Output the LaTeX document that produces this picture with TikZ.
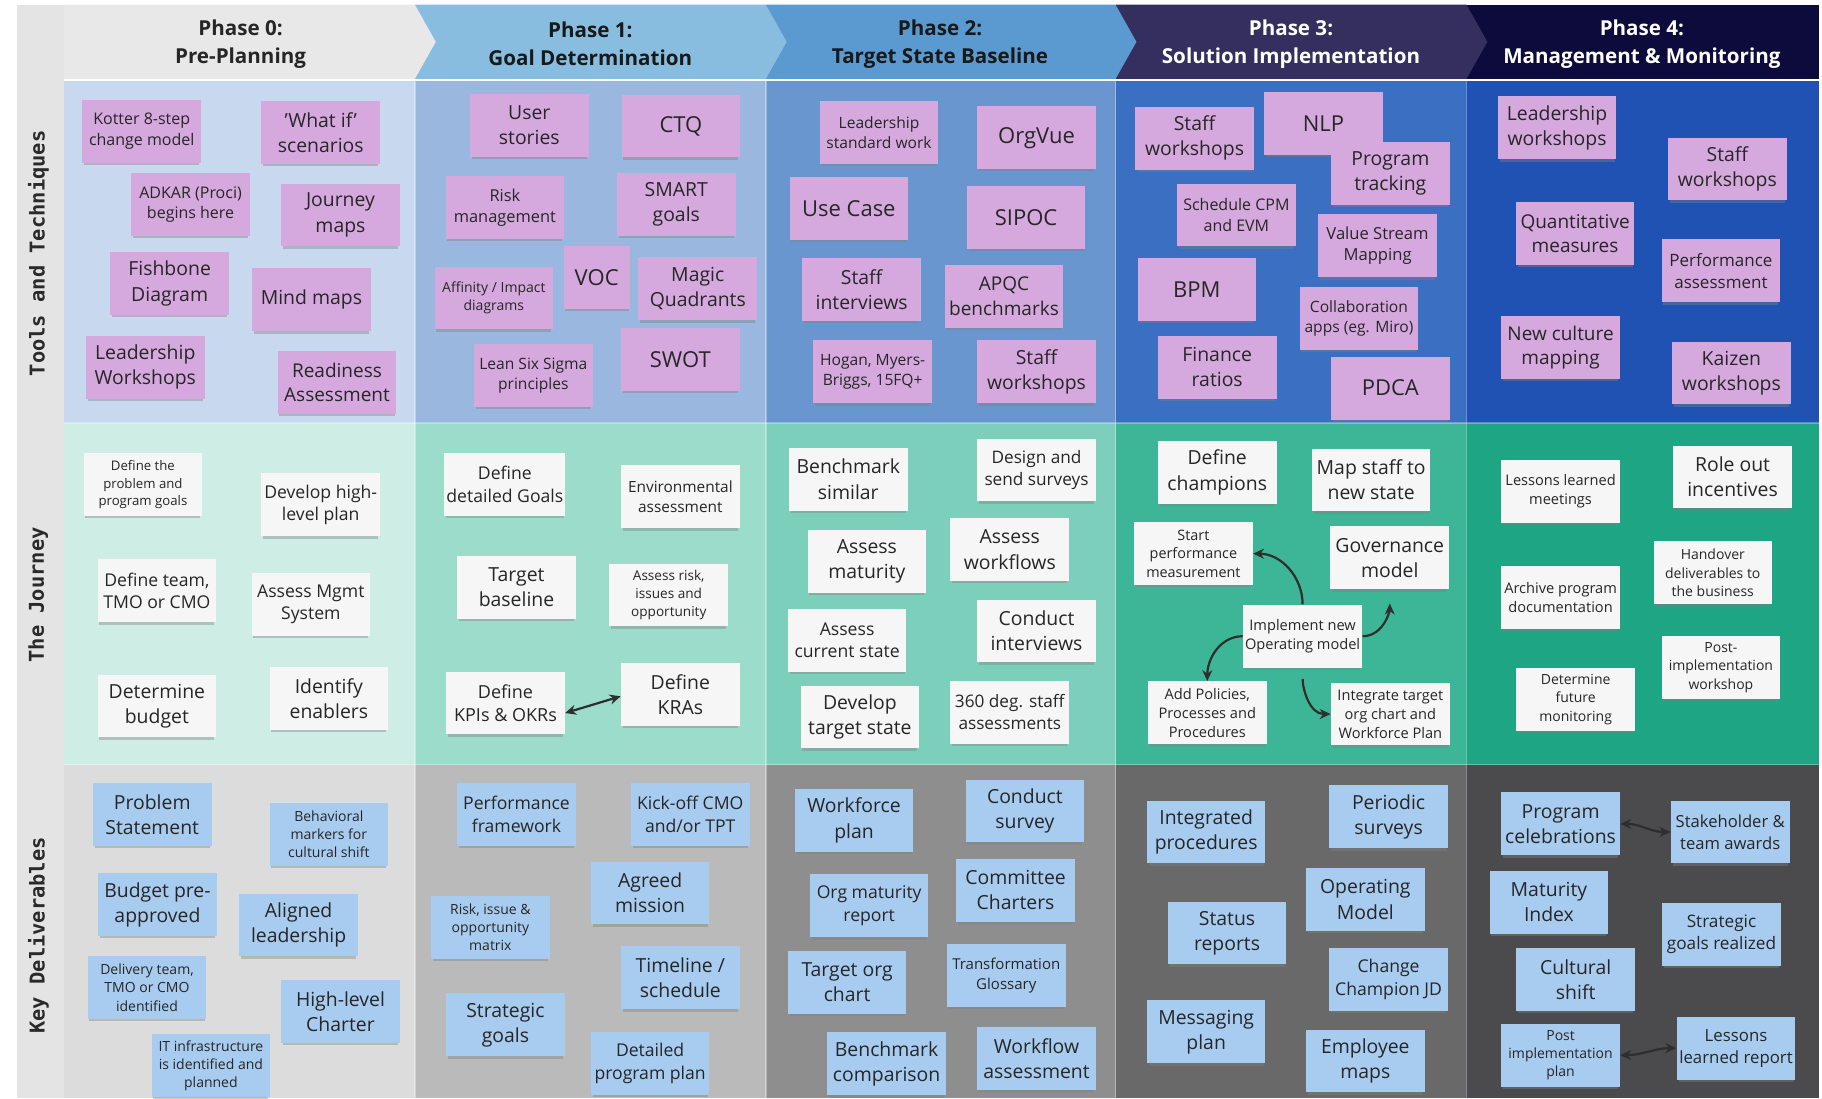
\documentclass[tikz,border=0pt]{standalone}
\usepackage{fontspec}
\setmainfont{Open Sans}
\newfontfamily\hdfont{Open Sans}
\newfontfamily\lblfont{DejaVu Sans Mono}
\usetikzlibrary{arrows.meta,shadows}
\newdimen\tmpfsd
\newcommand\setfs[1]{\tmpfsd=#1pt\relax\tmpfsd=1.3\tmpfsd\fontsize{#1pt}{\the\tmpfsd}\selectfont}
\definecolor{lblcol}{HTML}{E4E4E4}
\definecolor{lbltext}{HTML}{2A2A2A}
\definecolor{hA}{HTML}{E8E8E8}
\definecolor{hB}{HTML}{88BDE0}
\definecolor{hC}{HTML}{5A9AD0}
\definecolor{hD}{HTML}{342F5E}
\definecolor{hE}{HTML}{0D0B3B}
\definecolor{rAa}{HTML}{C8D8EE}
\definecolor{rAb}{HTML}{9AB7DF}
\definecolor{rAc}{HTML}{6996CF}
\definecolor{rAd}{HTML}{3B6FC1}
\definecolor{rAe}{HTML}{2052B4}
\definecolor{rBa}{HTML}{CDEDE5}
\definecolor{rBb}{HTML}{9BDCCB}
\definecolor{rBc}{HTML}{7CCFBB}
\definecolor{rBd}{HTML}{3DB698}
\definecolor{rBe}{HTML}{1EA583}
\definecolor{rCa}{HTML}{DCDCDC}
\definecolor{rCb}{HTML}{BABABA}
\definecolor{rCc}{HTML}{8E8E8E}
\definecolor{rCd}{HTML}{696969}
\definecolor{rCe}{HTML}{4B4A4D}
\definecolor{pinknote}{HTML}{D6A9DE}
\definecolor{whitenote}{HTML}{F6F6F6}
\definecolor{bluenote}{HTML}{A8CCF0}
\definecolor{notetext}{HTML}{262626}
\definecolor{arrowc}{HTML}{2E2E2E}
\tikzset{
  note/.style={minimum width=59.3pt, minimum height=31.4pt, inner sep=1pt, align=center, text=notetext,
    drop shadow={shadow xshift=0pt, shadow yshift=-1.7pt, opacity=0.4, shadow scale=0.97}},
  pk/.style={note, fill=pinknote},
  wt/.style={note, fill=whitenote},
  bl/.style={note, fill=bluenote},
  tsz/.style={font=\setfs{#1}},
  arr/.style={-{Stealth[length=5.5pt,width=5pt]}, line width=1.1pt, draw=arrowc},
  dbl/.style={{Stealth[length=5.5pt,width=5pt]}-{Stealth[length=5.5pt,width=5pt]}, line width=1.1pt, draw=arrowc},
  hdr/.style={font=\hdfont\bfseries\fontsize{10.3pt}{14pt}\selectfont, align=center},
  lbl/.style={rotate=90, font=\lblfont\bfseries\fontsize{10.2pt}{12pt}\selectfont, text=lbltext},
}
\begin{document}
\begin{tikzpicture}[x=0.581pt,y=-0.581pt]
\useasboundingbox (0,0) rectangle (1568,945);
\fill[white] (0,0) rectangle (1568,945);
% label column
\fill[lblcol] (15,4) rectangle (55,945);
% cell backgrounds
\fill[rAa] (55,70) rectangle (357,364);
\fill[rAb] (357,70) rectangle (659,364);
\fill[rAc] (659,70) rectangle (960,364);
\fill[rAd] (960,70) rectangle (1262,364);
\fill[rAe] (1262,70) rectangle (1565,364);
\fill[rBa] (55,364) rectangle (357,658);
\fill[rBb] (357,364) rectangle (659,658);
\fill[rBc] (659,364) rectangle (960,658);
\fill[rBd] (960,364) rectangle (1262,658);
\fill[rBe] (1262,364) rectangle (1565,658);
\fill[rCa] (55,658) rectangle (357,945);
\fill[rCb] (357,658) rectangle (659,945);
\fill[rCc] (659,658) rectangle (960,945);
\fill[rCd] (960,658) rectangle (1262,945);
\fill[rCe] (1262,658) rectangle (1565,945);
\foreach \xx in {357,659,960,1262}{\draw[white,opacity=0.35,line width=0.8pt] (\xx,70) -- (\xx,945);}
\foreach \yy in {364,658}{\draw[white,opacity=0.3,line width=0.8pt] (55,\yy) -- (1565,\yy);}
% header chevrons
\fill[hE] (1262,4) -- (1565,4) -- (1565,68) -- (1262,68) -- cycle;
\fill[hD] (960,4) -- (1262,4) -- (1280,36) -- (1262,68) -- (960,68) -- cycle;
\fill[hC] (659,4) -- (960,4) -- (978,36) -- (960,68) -- (659,68) -- cycle;
\fill[hB] (357,4) -- (659,4) -- (677,36) -- (659,68) -- (357,68) -- cycle;
\fill[hA] (55,4) -- (357,4) -- (375,36) -- (357,68) -- (55,68) -- cycle;
\draw[white,opacity=0.7,line width=1.2pt] (55,69) -- (1565,69);
\node[hdr, text=black!85] (h0) at (207,38) {Phase 0:\\Pre-Planning};
\node[hdr, text=black!90] (h1) at (508,38) {Phase 1:\\Goal Determination};
\node[hdr, text=black!90] (h2) at (809,38) {Phase 2:\\Target State Baseline};
\node[hdr, text=white] (h3) at (1111,38) {Phase 3:\\Solution Implementation};
\node[hdr, text=white] (h4) at (1413,38) {Phase 4:\\Management \& Monitoring};
% row labels
\node[lbl] (L1) at (33,218) {Tools and Techniques};
\node[lbl] (L2) at (33,512) {The Journey};
\node[lbl] (L3) at (33,805) {Key Deliverables};
% ---------- Row 1: Tools and Techniques ----------
\node[pk,tsz=8]   (t0a) at (122,113) {Kotter 8-step\\change model};
\node[pk,tsz=9.7] (t0b) at (276,114) {\symbol{39}What if'\\scenarios};
\node[pk,tsz=8]   (t0c) at (164,176) {ADKAR (Proci)\\begins here};
\node[pk,tsz=9.7] (t0d) at (293,185) {Journey\\maps};
\node[pk,tsz=9.7] (t0e) at (146,244) {Fishbone\\Diagram};
\node[pk,tsz=9.7] (t0f) at (268,258) {Mind maps};
\node[pk,tsz=9.7] (t0g) at (125,316) {Leadership\\Workshops};
\node[pk,tsz=9.5] (t0h) at (290,329) {Readiness\\Assessment};
\node[pk,tsz=9.7] (t1a) at (455.5,108) {User\\stories};
\node[pk,tsz=11]  (t1b) at (586,108.5) {CTQ};
\node[pk,tsz=8.2] (t1c) at (434.5,178.5) {Risk\\management};
\node[pk,tsz=9.7] (t1d) at (582,176) {SMART\\goals};
\node[pk,tsz=7]   (t1e) at (425,256.5) {Affinity / Impact\\diagrams};
\node[pk,tsz=11,minimum width=33pt] (t1f) at (513.5,238.5) {VOC};
\node[pk,tsz=9.7] (t1g) at (600.5,248.5) {Magic\\Quadrants};
\node[pk,tsz=7.8] (t1h) at (459,323) {Lean Six Sigma\\principles};
\node[pk,tsz=11]  (t1i) at (585.5,309.5) {SWOT};
\node[pk,tsz=7.8] (t2a) at (756.5,114) {Leadership\\standard work};
\node[pk,tsz=11]  (t2b) at (892,118.5) {OrgVue};
\node[pk,tsz=11]  (t2c) at (730.5,179.5) {Use Case};
\node[pk,tsz=11]  (t2d) at (883,187) {SIPOC};
\node[pk,tsz=9.7] (t2e) at (741.5,249) {Staff\\interviews};
\node[pk,tsz=9.5] (t2f) at (864,255) {APQC\\benchmarks};
\node[pk,tsz=7.8] (t2g) at (751,320) {Hogan, Myers-\\Briggs, 15FQ+};
\node[pk,tsz=9.7] (t2h) at (892,320) {Staff\\workshops};
\node[pk,tsz=9.7] (t3a) at (1028,119) {Staff\\workshops};
\node[pk,tsz=11]  (t3b) at (1139,106) {NLP};
\node[pk,tsz=9.7] (t3c) at (1196.5,149) {Program\\tracking};
\node[pk,tsz=8]   (t3d) at (1064,185) {Schedule CPM\\and EVM};
\node[pk,tsz=8.3] (t3e) at (1185.5,211.5) {Value Stream\\Mapping};
\node[pk,tsz=11]  (t3f) at (1030,249) {BPM};
\node[pk,tsz=7.8] (t3g) at (1169.5,274) {Collaboration\\apps (eg. Miro)};
\node[pk,tsz=9.7] (t3h) at (1047.5,316) {Finance\\ratios};
\node[pk,tsz=11]  (t3i) at (1196.5,334) {PDCA};
\node[pk,tsz=9.7] (t4a) at (1340,110) {Leadership\\workshops};
\node[pk,tsz=9.7] (t4b) at (1486.5,145.5) {Staff\\workshops};
\node[pk,tsz=9.5] (t4c) at (1355.5,201) {Quantitative\\measures};
\node[pk,tsz=8.5] (t4d) at (1481,233) {Performance\\assessment};
\node[pk,tsz=9.5] (t4e) at (1343,299) {New culture\\mapping};
\node[pk,tsz=9.7] (t4f) at (1490,321) {Kaizen\\workshops};
% ---------- Row 2: The Journey ----------
\node[wt,tsz=6.6] (j0a) at (123,417) {Define the\\problem and\\program goals};
\node[wt,tsz=8.8] (j0b) at (276,434.5) {Develop high-\\level plan};
\node[wt,tsz=8.8] (j0c) at (135,508.5) {Define team,\\TMO or CMO};
\node[wt,tsz=8.8] (j0d) at (267.5,520) {Assess Mgmt\\System};
\node[wt,tsz=9.7] (j0e) at (135,607.5) {Determine\\budget};
\node[wt,tsz=9.7] (j0f) at (283,601) {Identify\\enablers};
\node[wt,tsz=8.8] (j1a) at (434.5,417) {Define\\detailed Goals};
\node[wt,tsz=7.7] (j1b) at (585.5,427.5) {Environmental\\assessment};
\node[wt,tsz=9.7] (j1c) at (444.5,505.5) {Target\\baseline};
\node[wt,tsz=6.8] (j1d) at (575.5,512) {Assess risk,\\issues and\\opportunity};
\node[wt,tsz=9]   (j1e) at (435,605) {Define\\KPIs \& OKRs};
\node[wt,tsz=9.7] (j1f) at (585.5,597.5) {Define\\KRAs};
\node[wt,tsz=9.7] (j2a) at (730,412.5) {Benchmark\\similar};
\node[wt,tsz=8.6] (j2b) at (892,404.5) {Design and\\send surveys};
\node[wt,tsz=9.7] (j2c) at (746,483) {Assess\\maturity};
\node[wt,tsz=9.7] (j2d) at (869,473) {Assess\\workflows};
\node[wt,tsz=8.8] (j2e) at (729,551) {Assess\\current state};
\node[wt,tsz=9.7] (j2f) at (892,543) {Conduct\\interviews};
\node[wt,tsz=9.7] (j2g) at (740,617) {Develop\\target state};
\node[wt,tsz=8.6] (j2h) at (869,613) {360 deg. staff\\assessments};
\node[wt,tsz=9.7] (j3a) at (1047.5,406.5) {Define\\champions};
\node[wt,tsz=9.7] (j3b) at (1180,413) {Map staff to\\new state};
\node[wt,tsz=7.2] (j3c) at (1027,476.5) {Start\\performance\\measurement};
\node[wt,tsz=9.7] (j3d) at (1196,480) {Governance\\model};
\node[wt,tsz=7.3] (j3e) at (1121,547.5) {Implement new\\Operating model};
\node[wt,tsz=7.3] (j3f) at (1039,613.5) {Add Policies,\\Processes and\\Procedures};
\node[wt,tsz=7.3] (j3g) at (1196.5,614.5) {Integrate target\\org chart and\\Workforce Plan};
\node[wt,tsz=7.3] (j4a) at (1343,423) {Lessons learned\\meetings};
\node[wt,tsz=9.7] (j4b) at (1491,410.5) {Role out\\incentives};
\node[wt,tsz=7]   (j4c) at (1474,493) {Handover\\deliverables to\\the business};
\node[wt,tsz=7.3] (j4d) at (1343,514) {Archive program\\documentation};
\node[wt,tsz=7]   (j4e) at (1481,574.5) {Post-\\implementation\\workshop};
\node[wt,tsz=7]   (j4f) at (1356,602) {Determine\\future\\monitoring};
% journey arrows
\draw[dbl] ([yshift=-5pt]j1e.east) -- ([yshift=-1pt]j1f.west);
\draw[arr] (j3e.north) to[out=90,in=0] (j3c.east);
\draw[arr,shorten >=7pt] (j3e.east) to[out=0,in=-90] (j3d.south);
\draw[arr] (j3e.west) to[out=180,in=90] (j3f.north);
\draw[arr,shorten <=5.5pt] (j3e.south) to[out=-90,in=180] (j3g.west);
% ---------- Row 3: Key Deliverables ----------
\node[bl,tsz=9.7] (k0a) at (131,701) {Problem\\Statement};
\node[bl,tsz=7]   (k0b) at (283,718) {Behavioral\\markers for\\cultural shift};
\node[bl,tsz=9.7] (k0c) at (135.5,778.5) {Budget pre-\\approved};
\node[bl,tsz=9.7] (k0d) at (257,796) {Aligned\\leadership};
\node[bl,tsz=7]   (k0e) at (126.5,850) {Delivery team,\\TMO or CMO\\identified};
\node[bl,tsz=9.7] (k0f) at (293,870.5) {High-level\\Charter};
\node[bl,tsz=7]   (k0g) at (181.5,917) {IT infrastructure\\is identified and\\planned};
\node[bl,tsz=8.8] (k1a) at (444.5,701) {Performance\\framework};
\node[bl,tsz=8.8] (k1b) at (594,701) {Kick-off CMO\\and/or TPT};
\node[bl,tsz=9.7] (k1c) at (559.5,768.5) {Agreed\\mission};
\node[bl,tsz=7]   (k1d) at (422,798) {Risk, issue \&\\opportunity\\matrix};
\node[bl,tsz=9.7] (k1e) at (585.5,841.5) {Timeline /\\schedule};
\node[bl,tsz=9.7] (k1f) at (435,882) {Strategic\\goals};
\node[bl,tsz=8.8] (k1g) at (559.5,915) {Detailed\\program plan};
\node[bl,tsz=9.7] (k2a) at (735,706) {Workforce\\plan};
\node[bl,tsz=9.7] (k2b) at (882,698) {Conduct\\survey};
\node[bl,tsz=9.7] (k2c) at (874,766) {Committee\\Charters};
\node[bl,tsz=8.8] (k2d) at (748,779.5) {Org maturity\\report};
\node[bl,tsz=9.7] (k2e) at (729,845.5) {Target org\\chart};
\node[bl,tsz=7.5] (k2f) at (866,839.5) {Transformation\\Glossary};
\node[bl,tsz=9.7] (k2g) at (763,915.5) {Benchmark\\comparison};
\node[bl,tsz=9.7] (k2h) at (892,911) {Workflow\\assessment};
\node[bl,tsz=9.7] (k3a) at (1038,716) {Integrated\\procedures};
\node[bl,tsz=9.7] (k3b) at (1195,703) {Periodic\\surveys};
\node[bl,tsz=9.7] (k3c) at (1175,774) {Operating\\Model};
\node[bl,tsz=9.7] (k3d) at (1056,803) {Status\\reports};
\node[bl,tsz=8.8] (k3e) at (1195,843) {Change\\Champion JD};
\node[bl,tsz=9.7] (k3f) at (1038,888) {Messaging\\plan};
\node[bl,tsz=9.7] (k3g) at (1175,913) {Employee\\maps};
\node[bl,tsz=9.7] (k4a) at (1343,709) {Program\\celebrations};
\node[bl,tsz=8.3] (k4b) at (1489,716) {Stakeholder \&\\team awards};
\node[bl,tsz=9.7] (k4c) at (1333,776.5) {Maturity\\Index};
\node[bl,tsz=8.6] (k4d) at (1481.5,804) {Strategic\\goals realized};
\node[bl,tsz=9.7] (k4e) at (1356,843) {Cultural\\shift};
\node[bl,tsz=7]   (k4f) at (1343,908) {Post\\implementation\\plan};
\node[bl,tsz=8.4] (k4g) at (1494,902) {Lessons\\learned report};
\draw[dbl] (k4a.east) to[out=0,in=180] (k4b.west);
\draw[dbl] (k4f.east) to[out=0,in=180] (k4g.west);
\end{tikzpicture}
\end{document}
